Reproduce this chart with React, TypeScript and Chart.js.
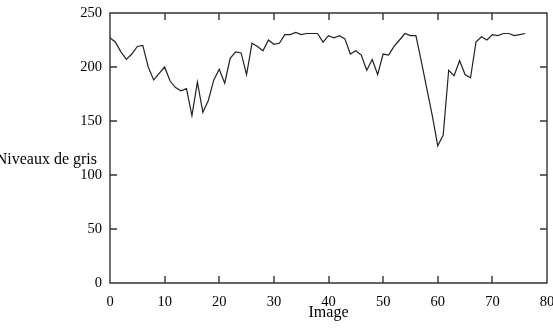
import React, { useEffect, useRef } from 'react';
import { Chart, registerables } from 'chart.js';
Chart.register(...registerables);

const greyLevels: number[] = [
  227, 223, 214, 207, 212, 219, 220, 200, 188, 194,
  200, 187, 181, 178, 180, 155, 186, 158, 169, 188,
  198, 185, 208, 214, 213, 193, 222, 219, 215, 225,
  221, 222, 230, 230, 232, 230, 231, 231, 231, 223,
  229, 227, 229, 226, 212, 215, 211, 197, 207, 193,
  212, 211, 219, 225, 231, 229, 229, 205, 180, 155,
  127, 137, 197, 192, 206, 193, 190, 223, 228, 225,
  230, 229, 231, 231, 229, 230, 231,
];
const xTickValues: number[] = [0, 10, 20, 30, 40, 50, 60, 70, 80];
const yTickValues: number[] = [0, 50, 100, 150, 200, 250];
const xTitle = 'Image';
const yTitle = 'Niveaux de gris';

const FONT = "'Liberation Serif', 'DejaVu Serif', serif";

const framePlugin = {
  id: 'frameTicks',
  afterDraw(chart: any) {
    const ctx: CanvasRenderingContext2D = chart.ctx;
    const a = chart.chartArea;
    const xs = chart.scales.x, ys = chart.scales.y;
    const L = Math.round(a.left), R = Math.round(a.right);
    const T = Math.round(a.top), B = Math.round(a.bottom);
    ctx.save();
    ctx.setLineDash([]);
    ctx.lineWidth = 1.4;
    ctx.strokeStyle = '#333333';
    ctx.beginPath();
    ctx.rect(L, T, R - L, B - T);
    const len = 7;
    xTickValues.forEach((v) => {
      const px = Math.round(xs.getPixelForValue(v));
      ctx.moveTo(px, B);
      ctx.lineTo(px, B - len);
      ctx.moveTo(px, T);
      ctx.lineTo(px, T + len);
    });
    yTickValues.forEach((v) => {
      const py = Math.round(ys.getPixelForValue(v));
      ctx.moveTo(L, py);
      ctx.lineTo(L + len, py);
      ctx.moveTo(R, py);
      ctx.lineTo(R - len, py);
    });
    ctx.stroke();
    ctx.fillStyle = '#000';
    ctx.font = `16px ${FONT}`;
    ctx.textAlign = 'right';
    ctx.textBaseline = 'middle';
    ctx.fillText(yTitle, 97, 160);
    ctx.textAlign = 'center';
    ctx.textBaseline = 'alphabetic';
    ctx.fillText(xTitle, (a.left + a.right) / 2, 317);
    ctx.restore();
  },
};

export default function App() {
  const ref = useRef<HTMLCanvasElement | null>(null);
  useEffect(() => {
    if (!ref.current) return;
    const chart = new Chart(ref.current, {
      type: 'line',
      data: {
        datasets: [
          {
            data: greyLevels.map((v, i) => ({ x: i, y: v })),
            borderColor: '#222',
            borderWidth: 1.2,
            pointRadius: 0,
            tension: 0,
            fill: false,
          },
        ],
      },
      options: {
        animation: false,
        responsive: false,
        maintainAspectRatio: false,
        layout: { padding: { top: 13, right: 6, left: 0, bottom: 0 } },
        plugins: { legend: { display: false }, tooltip: { enabled: false } },
        scales: {
          x: {
            type: 'linear',
            min: 0,
            max: 80,
            afterBuildTicks: (s: any) => {
              s.ticks = xTickValues.map((v) => ({ value: v }));
            },
            afterFit: (s: any) => {
              s.height = 47;
              s.paddingLeft = 0;
              s.paddingRight = 0;
            },
            grid: { display: false, drawTicks: false },
            border: { display: false },
            ticks: {
              color: '#000',
              font: { family: FONT, size: 14.5 },
              padding: 10,
              maxRotation: 0,
              autoSkip: false,
            },
          },
          y: {
            type: 'linear',
            min: 0,
            max: 250,
            afterBuildTicks: (s: any) => {
              s.ticks = yTickValues.map((v) => ({ value: v }));
            },
            afterFit: (s: any) => {
              s.width = 110;
              s.paddingTop = 0;
              s.paddingBottom = 0;
            },
            grid: { display: false, drawTicks: false },
            border: { display: false },
            ticks: {
              color: '#000',
              font: { family: FONT, size: 14.5 },
              padding: 8,
              autoSkip: false,
            },
          },
        },
      },
      plugins: [framePlugin],
    });
    return () => chart.destroy();
  }, []);
  return (
    <div style={{ position: 'fixed', left: 0, top: 0, width: 553, height: 330, background: '#fff' }}>
      <canvas ref={ref} width={553} height={330} style={{ width: 553, height: 330 }} />
    </div>
  );
}
